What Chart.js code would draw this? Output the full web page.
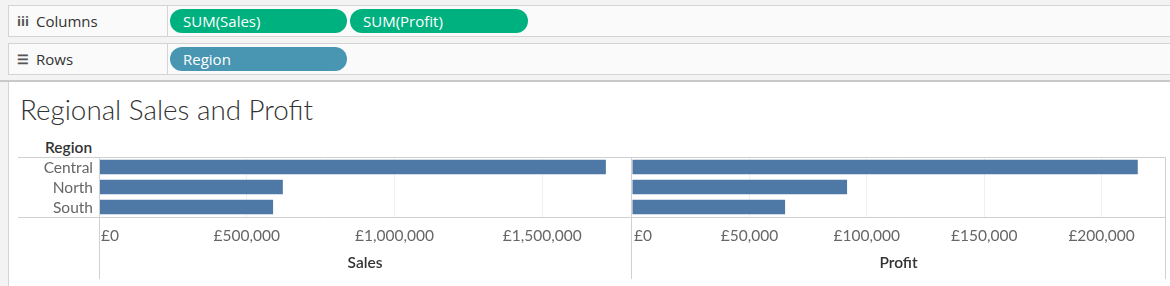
<!DOCTYPE html>
<html>
<head>
<meta charset="utf-8">
<script src="https://cdn.jsdelivr.net/npm/chart.js@4.4.0/dist/chart.umd.min.js"></script>
<style>
  body { margin: 0; width: 1170px; height: 286px; background: #f3f3f3; font-family: Lato, "Open Sans", sans-serif; overflow: hidden; position: relative; }
  .shelf { position: absolute; left: 8px; width: 1170px; height: 30px; background: #fafafa; border-top: 1px solid #d4d4d4; border-bottom: 1px solid #d4d4d4; border-left: 1px solid #d4d4d4; font-family: "Open Sans", sans-serif; }
  .shelf .label { position: absolute; left: 0; top: 0; width: 158px; height: 30px; border-right: 1px solid #d4d4d4; color: #333; font-size: 15px; line-height: 30px; }
  .shelf .label .icon { position: absolute; left: 8px; font-size: 13px; font-weight: bold; color: #555; }
  .shelf .label .txt { position: absolute; left: 27px; }
  .pill { position: absolute; top: 3px; height: 24px; border-radius: 12px; color: #fff; font-size: 15px; line-height: 24px; padding-left: 13px; box-sizing: border-box; }
  .measure { background: #00b180; }
  .dim { background: #4996b2; }
  .sep { position: absolute; left: 0; top: 80px; width: 1170px; height: 2px; background: #c8c8c8; }
  .view { position: absolute; left: 8px; top: 82px; width: 1162px; height: 204px; background: #fff; border-left: 1px solid #d4d4d4; }
  .title { position: absolute; left: 20px; top: 93px; font-size: 27.8px; font-weight: 300; color: #333; white-space: nowrap; }
  .rowhead { position: absolute; left: 45px; top: 138px; font-size: 15.5px; font-weight: 600; color: #333; }
  .wrap { position: absolute; top: 157px; }
</style>
</head>
<body>
<div class="shelf" style="top:5px">
  <div class="label"><span class="icon">iii</span><span class="txt">Columns</span></div>
  <div class="pill measure" style="left:161px;width:177px">SUM(Sales)</div>
  <div class="pill measure" style="left:341px;width:178px">SUM(Profit)</div>
</div>
<div class="shelf" style="top:43px">
  <div class="label"><span class="icon">&#9776;</span><span class="txt">Rows</span></div>
  <div class="pill dim" style="left:161px;width:177px">Region</div>
</div>
<div class="sep"></div>
<div class="view"></div>
<div class="title">Regional Sales and Profit</div>
<div class="rowhead">Region</div>
<div class="wrap" style="left:18px"><canvas id="salesChart" width="613" height="129"></canvas></div>
<div class="wrap" style="left:631px"><canvas id="profitChart" width="535" height="129"></canvas></div>

<script>
const regions = ["Central", "North", "South"];
const sales = [1715000, 622000, 589000];
const profit = [215400, 91600, 65200];
const salesTicks = [0, 500000, 1000000, 1500000];
const profitTicks = [0, 50000, 100000, 150000, 200000];
const salesMax = 1800000;
const profitMax = 227000;

const lineColor = "#d0d0d0";
const fmt = (v) => "£" + v.toLocaleString("en-GB");

// draws pane borders, tick labels, axis title and row labels
const paneDecor = {
  id: "paneDecor",
  afterDraw(chart, args, opts) {
    const { ctx, chartArea: a } = chart;
    const x = chart.scales.x;
    const y = chart.scales.y;
    ctx.save();
    ctx.strokeStyle = lineColor;
    ctx.lineWidth = 1;
    ctx.beginPath();
    ctx.moveTo(0, a.top + 0.5);
    ctx.lineTo(chart.width, a.top + 0.5);
    ctx.moveTo(0, a.bottom + 0.5);
    ctx.lineTo(chart.width, a.bottom + 0.5);
    opts.verticals.forEach((vx) => {
      const px = vx === "left" ? a.left - opts.leftGap + 0.5 : a.right + 0.5;
      ctx.moveTo(px, a.top);
      ctx.lineTo(px, 122);
    });
    ctx.stroke();

    ctx.fillStyle = "#666";
    ctx.font = "15.5px Lato";
    ctx.textBaseline = "middle";
    ctx.textAlign = "left";
    opts.ticks.forEach((v) => {
      const label = fmt(v);
      const w = ctx.measureText(label).width;
      const px = x.getPixelForValue(v);
      ctx.fillText(label, Math.max(px - w / 2, a.left + 2), a.bottom + 19);
    });

    if (opts.showRows) {
      ctx.textAlign = "right";
      ctx.font = "15.5px Lato";
      regions.forEach((r, i) => {
        ctx.fillText(r, a.left - 6, y.getPixelForValue(i) + 1);
      });
    }

    ctx.fillStyle = "#333";
    ctx.font = "600 15.5px Lato";
    ctx.textAlign = "center";
    ctx.fillText(opts.title, (a.left + a.right) / 2, a.bottom + 46);
    ctx.restore();
  }
};

function makeChart(id, values, max, ticks, title, padL, padR, decor) {
  return new Chart(document.getElementById(id), {
    type: "bar",
    data: {
      labels: regions,
      datasets: [{
        data: values,
        backgroundColor: "#4e79a7",
        barPercentage: 0.72,
        categoryPercentage: 1
      }]
    },
    options: {
      indexAxis: "y",
      responsive: false,
      animation: false,
      layout: { padding: { left: padL, right: padR, top: 0, bottom: 0 } },
      plugins: {
        legend: { display: false },
        tooltip: { enabled: false },
        paneDecor: Object.assign({ ticks: ticks, title: title }, decor)
      },
      scales: {
        x: {
          type: "linear",
          min: 0,
          max: max,
          grid: {
            color: (c) => (c.tick && c.tick.value === 0 ? "rgba(0,0,0,0)" : "#efefef"),
            drawTicks: false
          },
          border: { display: false },
          ticks: { display: false },
          afterBuildTicks: (s) => { s.ticks = ticks.map((v) => ({ value: v })); },
          afterFit: (s) => { s.height = 69; }
        },
        y: { display: false }
      }
    },
    plugins: [paneDecor]
  });
}

makeChart("salesChart", sales, salesMax, salesTicks, "Sales", 81, 0,
  { verticals: ["left"], leftGap: 0, showRows: true });
makeChart("profitChart", profit, profitMax, profitTicks, "Profit", 1, 1,
  { verticals: ["left", "right"], leftGap: 1, showRows: false });
</script>
</body>
</html>
